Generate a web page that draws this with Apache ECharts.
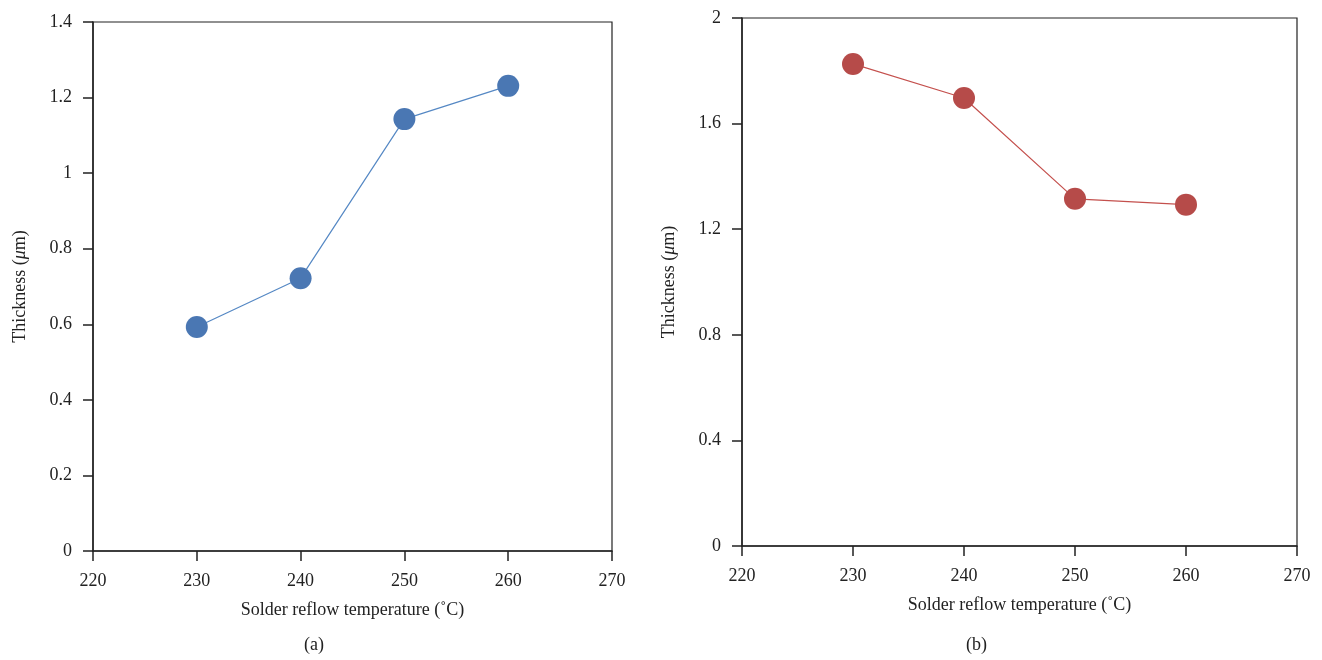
<!DOCTYPE html>
<html>
<head>
<meta charset="utf-8">
<script src="https://cdn.jsdelivr.net/npm/echarts@6/dist/echarts.min.js"></script>
<style>
  html, body { margin: 0; padding: 0; background: #fff; }
  #main { width: 1322px; height: 660px; }
</style>
</head>
<body>
<div id="main"></div>
<script>
// data
var temps = [230, 240, 250, 260];
var thickA = [0.593, 0.722, 1.143, 1.231];
var thickB = [1.826, 1.697, 1.315, 1.293];
var captions = ['(a)', '(b)'];

var font = 'Liberation Serif';
var axisColor = '#222';

function pairs(xs, ys) {
    return xs.map(function (x, i) { return [x, ys[i]]; });
}

var myChart = echarts.init(document.getElementById('main'));

function xAxisCfg(idx) {
    return {
        type: 'value', gridIndex: idx, min: 220, max: 270, interval: 10,
        name: 'Solder reflow temperature (˚C)', nameLocation: 'middle', nameGap: 50,
        nameTextStyle: { fontFamily: font, fontSize: 18, color: '#222' },
        axisLine: { onZero: false, lineStyle: { color: axisColor, width: 1.5 } },
        axisTick: { length: 10, lineStyle: { color: axisColor, width: 1.5 } },
        axisLabel: { fontFamily: font, fontSize: 18, color: '#222', margin: 21 },
        splitLine: { show: false }
    };
}

function yAxisCfg(idx, max, step) {
    return {
        type: 'value', gridIndex: idx, min: 0, max: max, interval: step,
        name: 'Thickness ({i|μ}m)', nameLocation: 'middle', nameGap: 64,
        nameTextStyle: {
            fontFamily: font, fontSize: 18, color: '#222',
            rich: { i: { fontFamily: font, fontSize: 18, fontStyle: 'italic', color: '#222' } }
        },
        axisLine: { lineStyle: { color: axisColor, width: 1.5 } },
        axisTick: { length: 10, lineStyle: { color: axisColor, width: 1.5 } },
        axisLabel: { fontFamily: font, fontSize: 18, color: '#222', margin: 21 },
        splitLine: { show: false }
    };
}

var option = {
    animation: false,
    backgroundColor: '#fff',
    grid: [
        { left: 93, top: 22, width: 519, height: 529, show: true, borderColor: axisColor, borderWidth: 1.2, backgroundColor: 'transparent' },
        { left: 742, top: 18, width: 555, height: 528, show: true, borderColor: axisColor, borderWidth: 1.2, backgroundColor: 'transparent' }
    ],
    xAxis: [xAxisCfg(0), xAxisCfg(1)],
    yAxis: [yAxisCfg(0, 1.4, 0.2), yAxisCfg(1, 2, 0.4)],
    graphic: [
        { type: 'text', left: 304, top: 636, style: { text: captions[0], font: '18px "Liberation Serif"', fill: '#222' } },
        { type: 'text', left: 966, top: 636, style: { text: captions[1], font: '18px "Liberation Serif"', fill: '#222' } }
    ],
    series: [
        {
            type: 'line', xAxisIndex: 0, yAxisIndex: 0,
            data: pairs(temps, thickA),
            symbol: 'circle', symbolSize: 22,
            lineStyle: { color: '#5588c4', width: 1.2 },
            itemStyle: { color: '#4a77b3' }
        },
        {
            type: 'line', xAxisIndex: 1, yAxisIndex: 1,
            data: pairs(temps, thickB),
            symbol: 'circle', symbolSize: 22,
            lineStyle: { color: '#c4504d', width: 1.2 },
            itemStyle: { color: '#b64b49' }
        }
    ]
};

myChart.setOption(option);
</script>
</body>
</html>
